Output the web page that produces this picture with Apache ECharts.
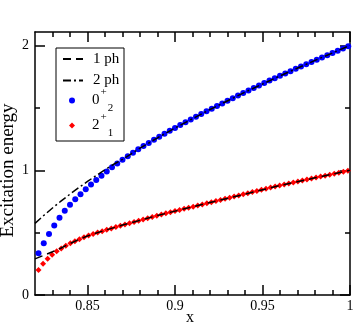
<!DOCTYPE html>
<html>
<head>
<meta charset="utf-8">
<script src="https://cdn.jsdelivr.net/npm/echarts@6.0.0/dist/echarts.min.js"></script>
<style>
  html, body { margin: 0; padding: 0; background: #fff; }
  #chart { width: 354px; height: 326px; }
</style>
</head>
<body>
<div id="chart"></div>
<script>
// values
var blueX = [0.822,0.825,0.828,0.831,0.834,0.837,0.840,0.843,0.846,0.849,0.852,0.855,0.858,0.861,0.864,0.867,0.870,0.873,0.876,0.879,0.882,0.885,0.888,0.891,0.894,0.897,0.900,0.903,0.906,0.909,0.912,0.915,0.918,0.921,0.924,0.927,0.930,0.933,0.936,0.939,0.942,0.945,0.948,0.951,0.954,0.957,0.960,0.963,0.966,0.969,0.972,0.975,0.978,0.981,0.984,0.987,0.990,0.993,0.996,0.999];
var blueY = [0.334,0.415,0.490,0.558,0.620,0.675,0.724,0.768,0.809,0.848,0.886,0.922,0.957,0.991,1.024,1.055,1.085,1.114,1.142,1.169,1.195,1.220,1.245,1.269,1.293,1.317,1.340,1.363,1.386,1.408,1.430,1.452,1.474,1.495,1.516,1.537,1.558,1.579,1.600,1.620,1.640,1.660,1.680,1.700,1.720,1.739,1.758,1.777,1.796,1.815,1.834,1.852,1.870,1.888,1.906,1.924,1.942,1.960,1.978,1.996];

var redX = [0.8220,0.8246,0.8272,0.8298,0.8324,0.8350,0.8376,0.8402,0.8428,0.8454,0.8480,0.8506,0.8532,0.8558,0.8584,0.8610,0.8636,0.8662,0.8688,0.8714,0.8740,0.8766,0.8792,0.8818,0.8844,0.8870,0.8896,0.8922,0.8948,0.8974,0.9000,0.9026,0.9052,0.9078,0.9104,0.9130,0.9156,0.9182,0.9208,0.9234,0.9260,0.9286,0.9312,0.9338,0.9364,0.9390,0.9416,0.9442,0.9468,0.9494,0.9520,0.9546,0.9572,0.9598,0.9624,0.9650,0.9676,0.9702,0.9728,0.9754,0.9780,0.9806,0.9832,0.9858,0.9884,0.9910,0.9936,0.9962,0.9988];
var redY = [0.200,0.251,0.291,0.323,0.350,0.374,0.396,0.415,0.432,0.448,0.463,0.477,0.490,0.501,0.512,0.523,0.534,0.545,0.556,0.566,0.576,0.586,0.596,0.606,0.616,0.626,0.636,0.646,0.655,0.664,0.673,0.682,0.691,0.700,0.709,0.718,0.727,0.736,0.745,0.754,0.763,0.772,0.781,0.790,0.799,0.808,0.817,0.826,0.835,0.844,0.853,0.862,0.870,0.878,0.886,0.894,0.902,0.910,0.918,0.926,0.934,0.942,0.950,0.957,0.965,0.973,0.981,0.989,0.997];

var onePhX = [0.820,0.825,0.830,0.835,0.840,0.845,0.850,0.860,0.870,0.880,0.890,0.900,0.920,0.940,0.960,0.980,1.000];
var onePhY = [0.290,0.318,0.347,0.377,0.413,0.445,0.474,0.519,0.561,0.599,0.638,0.673,0.742,0.809,0.879,0.940,1.000];

var twoPhX = [0.820,0.825,0.830,0.835,0.840,0.845,0.850,0.855,0.860,0.865,0.870,0.875,0.880,0.890,0.900,0.920,0.940,0.960,0.980,1.000];
var twoPhY = [0.575,0.638,0.698,0.755,0.809,0.861,0.911,0.959,1.005,1.049,1.088,1.133,1.178,1.261,1.340,1.488,1.627,1.758,1.882,2.002];

var xMajor = [0.85, 0.9, 0.95, 1];
var xMinor = [0.83,0.84,0.86,0.87,0.88,0.89,0.91,0.92,0.93,0.94,0.96,0.97,0.98,0.99];
var yMajor = [0, 1, 2];
var yMinor = [0.5, 1.5];

var serif = '"Liberation Serif", "DejaVu Serif", serif';

function pairs(xs, ys) {
  return xs.map(function (x, i) { return [x, ys[i]]; });
}

// one axis per tick kind and side, they all sit on the frame
function makeAxis(pos, min, max, ticks, len, withLine, labels) {
  return {
    type: 'value',
    position: pos,
    min: min,
    max: max,
    axisLine: { show: withLine, onZero: false, lineStyle: { color: '#000', width: 1.5 } },
    axisTick: { show: true, inside: true, length: len, customValues: ticks, lineStyle: { color: '#000', width: 1.5 } },
    axisLabel: labels ? {
      show: true, customValues: ticks, color: '#000', fontFamily: serif, fontSize: 14, margin: 6
    } : { show: false },
    splitLine: { show: false },
    minorTick: { show: false }
  };
}

var xMain = makeAxis('bottom', 0.82, 1, xMajor, 10, true, true);
xMain.axisLabel.margin = 4;
xMain.name = 'x';
xMain.nameLocation = 'middle';
xMain.nameGap = 15;
xMain.nameMoveOverlap = false;
xMain.nameTextStyle = { color: '#000', fontFamily: serif, fontSize: 16, padding: [0, 5, 0, 0] };

var yMain = makeAxis('left', 0, 2.11, yMajor, 10, true, true);
yMain.name = 'Excitation energy';
yMain.nameLocation = 'middle';
yMain.nameGap = 17;
yMain.nameMoveOverlap = false;
// right padding pushes the rotated name a little down, as in the picture
yMain.nameTextStyle = { color: '#000', fontFamily: serif, fontSize: 19, padding: [0, 14, 0, 0] };

var legendText = { color: '#000', fontFamily: serif, fontSize: 15, padding: [0, 0, 0, 5] };
var stateRich = {
  n: { fontFamily: serif, fontSize: 15, color: '#000', padding: [0, 0, 0, 12] },
  sup: { fontFamily: serif, fontSize: 11, color: '#000', padding: [0, 0, 16, 1] },
  sub: { fontFamily: serif, fontSize: 11, color: '#000', padding: [16, 0, 0, 1] }
};

var option = {
  animation: false,
  backgroundColor: '#fff',
  grid: { left: 35, right: 4, top: 32, bottom: 31, outerBoundsMode: 'none' },
  xAxis: [
    xMain,
    makeAxis('bottom', 0.82, 1, xMinor, 5, false, false),
    makeAxis('top', 0.82, 1, xMajor, 10, true, false),
    makeAxis('top', 0.82, 1, xMinor, 5, false, false)
  ],
  yAxis: [
    yMain,
    makeAxis('left', 0, 2.11, yMinor, 5, false, false),
    makeAxis('right', 0, 2.11, yMajor, 10, true, false),
    makeAxis('right', 0, 2.11, yMinor, 5, false, false)
  ],
  graphic: [{
    type: 'rect',
    z: 3,
    shape: { x: 56, y: 48, width: 68, height: 93 },
    style: { fill: '#fff', stroke: '#000', lineWidth: 1 }
  }],
  legend: [
    { data: ['1 ph'], left: 62, top: 51.5, padding: 0, itemWidth: 20, itemHeight: 10, selectedMode: false,
      itemStyle: { opacity: 0 }, textStyle: legendText },
    { data: ['2 ph'], left: 62, top: 73, padding: 0, itemWidth: 20, itemHeight: 10, selectedMode: false,
      itemStyle: { opacity: 0 }, textStyle: legendText },
    { data: ['0+2'], left: 69, top: 87, padding: 0, itemWidth: 6, itemHeight: 6, selectedMode: false,
      formatter: function () { return '{n|0}{sup|+}{sub|2}'; },
      textStyle: { rich: stateRich } },
    { data: ['2+1'], left: 69, top: 112, padding: 0, itemWidth: 6, itemHeight: 6, selectedMode: false,
      formatter: function () { return '{n|2}{sup|+}{sub|1}'; },
      textStyle: { rich: stateRich } }
  ],
  series: [
    {
      name: '1 ph', type: 'line', symbol: 'none', silent: true,
      data: pairs(onePhX, onePhY),
      lineStyle: { color: '#000', width: 1.5, type: [8, 5] },
      itemStyle: { color: '#000' }
    },
    {
      name: '2 ph', type: 'line', symbol: 'none', silent: true,
      data: pairs(twoPhX, twoPhY),
      lineStyle: { color: '#000', width: 1.5, type: [8, 3, 2, 3] },
      itemStyle: { color: '#000' }
    },
    {
      name: '0+2', type: 'scatter', symbol: 'circle', symbolSize: 6, silent: true,
      data: pairs(blueX, blueY),
      itemStyle: { color: '#0000ff', opacity: 1 }
    },
    {
      name: '2+1', type: 'scatter', symbol: 'diamond', symbolSize: 6, silent: true,
      data: pairs(redX, redY),
      itemStyle: { color: '#ff0000', opacity: 1 }
    }
  ]
};

var myChart = echarts.init(document.getElementById('chart'));
myChart.setOption(option);
</script>
</body>
</html>
